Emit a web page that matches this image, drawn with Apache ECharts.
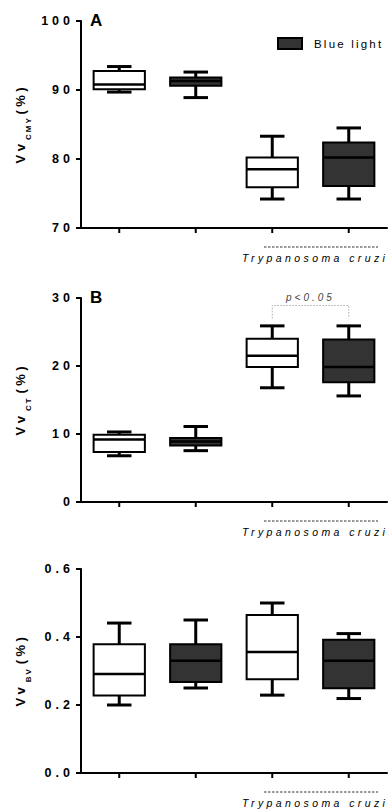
<!DOCTYPE html>
<html>
<head>
<meta charset="utf-8">
<script src="https://cdn.jsdelivr.net/npm/echarts@6/dist/echarts.min.js"></script>
<style>
  html, body { margin: 0; padding: 0; background: #fff; }
  #main { width: 392px; height: 811px; }
</style>
</head>
<body>
<div id="main"></div>
<script>
// groups on the x axis: control / blue light, then T. cruzi control / blue light
const groups = ["C", "BL", "Tc", "Tc BL"];

// [min, Q1, median, Q3, max] per group
const vvCMY = [
  [89.7, 90.1, 90.8, 92.75, 93.4],
  [88.9, 90.6, 91.3, 91.8, 92.6],
  [74.2, 75.9, 78.5, 80.2, 83.3],
  [74.2, 76.1, 80.2, 82.4, 84.5]
];
const vvCT = [
  [6.8, 7.35, 9.2, 9.9, 10.3],
  [7.55, 8.3, 8.9, 9.4, 11.1],
  [16.8, 19.85, 21.5, 24.0, 25.9],
  [15.6, 17.6, 19.85, 23.9, 25.9]
];
const vvBV = [
  [0.2, 0.228, 0.291, 0.379, 0.441],
  [0.25, 0.268, 0.33, 0.379, 0.45],
  [0.229, 0.276, 0.356, 0.465, 0.5],
  [0.219, 0.249, 0.33, 0.392, 0.41]
];

// significance bracket on panel B: [fromGroup, toGroup, bracket value, foot value]
const ctSignificance = [[2, 3, 28.9, 27.0]];
const ctSignificanceLabel = "p<0.05";

const groupLabel = "Trypanosoma cruzi";

const FONT = "'Liberation Sans', Arial, Helvetica, sans-serif";
const panels = [
  { top: 21, bottom: 228, min: 70, max: 100, interval: 10, sub: "CMY", data: vvCMY, letter: "A" },
  { top: 298, bottom: 502, min: 0, max: 30, interval: 10, sub: "CT", data: vvCT, letter: "B" },
  { top: 569, bottom: 773, min: 0, max: 0.6, interval: 0.2, sub: "BV", data: vvBV, letter: null }
];
const LEFT = 81, WIDTH = 306;

function boxItem(params, api) {
  const c = api.value(0);
  const pMin = api.coord([c, api.value(1)]);
  const pQ1 = api.coord([c, api.value(2)]);
  const pMed = api.coord([c, api.value(3)]);
  const pQ3 = api.coord([c, api.value(4)]);
  const pMax = api.coord([c, api.value(5)]);
  const band = api.size([1, 0])[0];
  const half = band * 0.335, cap = band * 0.16;
  const x = pMed[0];
  const ln = (x1, y1, x2, y2, w) => ({
    type: "line", shape: { x1, y1, x2, y2 }, style: { stroke: "#000", lineWidth: w }
  });
  return {
    type: "group",
    children: [
      ln(x, pMax[1], x, pQ3[1], 3),
      ln(x, pQ1[1], x, pMin[1], 3),
      ln(x - cap, pMax[1], x + cap, pMax[1], 3),
      ln(x - cap, pMin[1], x + cap, pMin[1], 3),
      {
        type: "rect",
        shape: { x: x - half, y: pQ3[1], width: half * 2, height: pQ1[1] - pQ3[1] },
        style: { fill: api.visual("color"), stroke: "#000", lineWidth: 2 }
      },
      ln(x - half, pMed[1], x + half, pMed[1], 2.5)
    ]
  };
}

// category ticks under the x axis, one per group
function tickItem(params, api) {
  const x = api.coord([api.value(0), 0])[0];
  const axisY = params.coordSys.y + params.coordSys.height;
  return {
    type: "line",
    shape: { x1: x, y1: axisY, x2: x, y2: axisY + 5 },
    style: { stroke: "#000", lineWidth: 2 }
  };
}

function bracketItem(params, api) {
  const a = api.coord([api.value(0), api.value(2)]);
  const b = api.coord([api.value(1), api.value(2)]);
  const foot = api.coord([api.value(0), api.value(3)])[1];
  return {
    type: "group",
    children: [
      {
        type: "polyline",
        shape: { points: [[a[0], foot], [a[0], a[1]], [b[0], b[1]], [b[0], foot]] },
        style: { stroke: "#aaa", lineWidth: 1, lineDash: [1.5, 1.5], fill: null }
      },
      {
        type: "text",
        x: (a[0] + b[0]) / 2, y: a[1] - 8,
        style: {
          text: ctSignificanceLabel, fill: "#444", font: "italic 10px " + FONT,
          align: "center", verticalAlign: "middle"
        }
      }
    ]
  };
}

const titleRich = {
  v: { fontSize: 13, fontWeight: "bold", color: "#000", fontFamily: FONT, padding: [0, 7, 5, 0], verticalAlign: "bottom" },
  s: { fontSize: 8, fontWeight: "bold", color: "#000", fontFamily: FONT, padding: [0, 6, 0, 0], verticalAlign: "bottom" },
  p: { fontSize: 13, fontWeight: "bold", color: "#000", fontFamily: FONT, padding: [0, 0, 5, 4], verticalAlign: "bottom" }
};

const grid = [], xAxis = [], yAxis = [], series = [], graphic = [];
panels.forEach((p, i) => {
  grid.push({ left: LEFT, width: WIDTH, top: p.top, height: p.bottom - p.top, outerBoundsMode: "none" });
  xAxis.push({
    gridIndex: i, type: "category", data: groups, boundaryGap: true,
    axisLine: { onZero: false, lineStyle: { color: "#000", width: 2 } },
    axisTick: { show: false },
    axisLabel: { show: false },
    splitLine: { show: false }
  });
  yAxis.push({
    gridIndex: i, type: "value", min: p.min, max: p.max, interval: p.interval,
    axisLine: { show: true, lineStyle: { color: "#000", width: 2 } },
    axisTick: { show: true, length: 5, lineStyle: { color: "#000", width: 2 } },
    axisLabel: {
      fontSize: 12.5, fontWeight: "bold", color: "#000", fontFamily: FONT, margin: 7,
      formatter: v => (p.interval < 1 ? v.toFixed(1) : String(v))
    },
    splitLine: { show: false },
    name: "{v|Vv}{s|" + p.sub + "}{p|(%)}",
    nameLocation: "middle", nameRotate: 90, nameGap: 49, nameMoveOverlap: false,
    nameTextStyle: { rich: titleRich }
  });
  series.push({
    name: "ticks", type: "custom", xAxisIndex: i, yAxisIndex: i, clip: false, silent: true,
    renderItem: tickItem, encode: { x: 0 },
    data: groups.map((g, k) => [k])
  });
  series.push({
    name: "Dark", type: "custom", xAxisIndex: i, yAxisIndex: i, clip: false,
    itemStyle: { color: "#fff" }, renderItem: boxItem, encode: { x: 0, y: [1, 2, 3, 4, 5] },
    data: [0, 2].map(g => [g].concat(p.data[g]))
  });
  series.push({
    name: "Blue light", type: "custom", xAxisIndex: i, yAxisIndex: i, clip: false,
    itemStyle: { color: "#333" }, renderItem: boxItem, encode: { x: 0, y: [1, 2, 3, 4, 5] },
    data: [1, 3].map(g => [g].concat(p.data[g]))
  });
  if (p.letter) {
    graphic.push({
      type: "text", left: 90, top: p.top - 9,
      style: { text: p.letter, font: "bold 17px " + FONT, fill: "#000" }
    });
  }
  graphic.push({
    type: "line", shape: { x1: 264, y1: p.bottom + 19, x2: 378, y2: p.bottom + 19 },
    style: { stroke: "#333", lineWidth: 1, lineDash: [2.5, 1.5] }
  });
  graphic.push({
    type: "text", x: 242, y: p.bottom + 30,
    style: { text: groupLabel, font: "italic 10.5px " + FONT, fill: "#000", align: "left", verticalAlign: "middle" }
  });
});

series.push({
  name: "significance", type: "custom", xAxisIndex: 1, yAxisIndex: 1,
  renderItem: bracketItem, encode: { x: [0, 1], y: [2, 3] },
  data: ctSignificance
});

const chart = echarts.init(document.getElementById("main"), null, { renderer: "svg" });
chart.setOption({
  animation: false,
  backgroundColor: "#fff",
  legend: {
    data: [{ name: "Blue light", icon: "rect", itemStyle: { color: "#333", borderColor: "#000", borderWidth: 2 } }],
    left: 272, top: 32, itemWidth: 24, itemHeight: 11, selectedMode: false,
    textStyle: { fontSize: 11.5, color: "#000", fontFamily: FONT, padding: [0, 0, 0, 7] }
  },
  grid, xAxis, yAxis, series, graphic
});

// the original figure uses wide letter spacing
const SPACING = [
  [/^[0-9.]+$/, 4],
  [/^Blue light$/, 2.2],
  [/^p<0\.05$/, 3],
  [/^Trypanosoma cruzi$/, 3.4],
  [/^Vv$/, 3.5],
  [/^(CMY|CT|BV)$/, 2],
  [/^\(%\)$/, 3.5]
];
function spaceLetters() {
  document.querySelectorAll("#main svg text").forEach(t => {
    const s = t.textContent;
    for (const [re, px] of SPACING) {
      if (re.test(s)) { t.setAttribute("letter-spacing", px); break; }
    }
  });
}
spaceLetters();
chart.on("finished", spaceLetters);
setTimeout(spaceLetters, 50);
</script>
</body>
</html>
